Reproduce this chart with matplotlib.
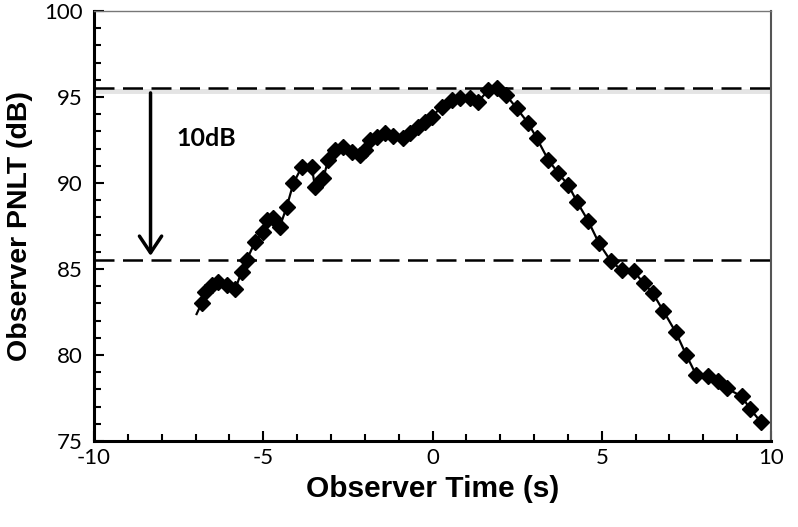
import matplotlib.pyplot as plt
from matplotlib.ticker import MultipleLocator

plt.rcParams['axes.unicode_minus'] = False

# observer time (s) and PNLT (dB)
time_s = [-6.97, -6.82, -6.72, -6.52, -6.33, -6.08, -5.83, -5.64, -5.49, -5.24,
          -5.00, -4.90, -4.70, -4.51, -4.31, -4.11, -3.86, -3.57, -3.47, -3.23,
          -3.08, -2.88, -2.64, -2.39, -2.14, -1.99, -1.85, -1.65, -1.40, -1.16,
          -0.86, -0.66, -0.42, -0.22, -0.02, 0.27, 0.57, 0.81, 1.11, 1.35,
          1.65, 1.90, 2.17, 2.49, 2.83, 3.08, 3.42, 3.72, 4.01, 4.28,
          4.60, 4.92, 5.27, 5.59, 5.94, 6.24, 6.50, 6.82, 7.19, 7.50,
          7.79, 8.13, 8.42, 8.69, 9.13, 9.39, 9.71]
pnlt_db = [82.38, 83.01, 83.68, 84.07, 84.26, 84.07, 83.82, 84.84, 85.52, 86.59,
           87.17, 87.85, 87.95, 87.46, 88.60, 89.98, 90.95, 90.95, 89.78, 90.27,
           91.34, 91.92, 92.11, 91.82, 91.63, 91.92, 92.50, 92.69, 92.89, 92.76,
           92.60, 92.89, 93.27, 93.56, 93.85, 94.44, 94.83, 94.96, 94.92, 94.73,
           95.41, 95.51, 95.12, 94.34, 93.47, 92.60, 91.34, 90.56, 89.88, 88.87,
           87.79, 86.49, 85.45, 84.94, 84.88, 84.17, 83.62, 82.56, 81.31, 79.98,
           78.84, 78.76, 78.49, 78.06, 77.60, 76.85, 76.08]

peak_level = 95.5
drop_level = 85.5
arrow_t = -8.33
label_txt = '10dB'

fig = plt.figure(figsize=(7.98, 5.27), dpi=100)
ax = fig.add_axes([0.1178, 0.1632, 0.8484, 0.8159])

# soft shadow under the peak line, then the dashed reference levels
ax.axhline(peak_level - 0.17, color='#e4e4e4', lw=3.5, zorder=1)
for lvl in [peak_level, drop_level]:
    ax.axhline(lvl, color='black', lw=1.8, dashes=(8, 3.4), zorder=2)

ax.plot(time_s, pnlt_db, color='black', lw=1.6, marker='D', markersize=8.5,
        markevery=range(1, len(time_s)), zorder=3)

ax.annotate('', xy=(arrow_t, drop_level + 0.1), xytext=(arrow_t, peak_level - 0.1),
            arrowprops=dict(arrowstyle='->,head_length=0.3,head_width=0.2',
                            lw=2.5, color='black', mutation_scale=40))
ax.text(-7.58, 92.56, label_txt, fontsize=18, fontweight='bold', family='Lato',
        ha='left', va='center')

ax.set_xlim(-10, 10)
ax.set_ylim(75, 100)
ax.xaxis.set_major_locator(MultipleLocator(5))
ax.xaxis.set_minor_locator(MultipleLocator(1))
ax.yaxis.set_major_locator(MultipleLocator(5))
ax.yaxis.set_minor_locator(MultipleLocator(1))
ax.tick_params(which='both', direction='in', top=False, right=False, width=1.5)
ax.tick_params(which='major', length=7)
ax.tick_params(which='minor', length=5)
ax.tick_params(axis='y', pad=8)
ax.tick_params(axis='x', pad=5)
for lab in ax.get_xticklabels() + ax.get_yticklabels():
    lab.set_family('Lato')
    lab.set_fontsize(16)

ax.spines['left'].set_linewidth(2.2)
ax.spines['bottom'].set_linewidth(2.2)
ax.spines['right'].set_color('#555555')
ax.spines['right'].set_linewidth(1.5)
ax.spines['top'].set_color('#777777')
ax.spines['top'].set_linewidth(1.0)

ax.set_xlabel('Observer Time (s)', fontsize=21.5, fontweight='bold',
              family='Liberation Sans', labelpad=5)
ax.set_ylabel('Observer PNLT (dB)', fontsize=20.5, fontweight='bold',
              family='Liberation Sans', labelpad=8)

fig.savefig('out.png', dpi=100)
